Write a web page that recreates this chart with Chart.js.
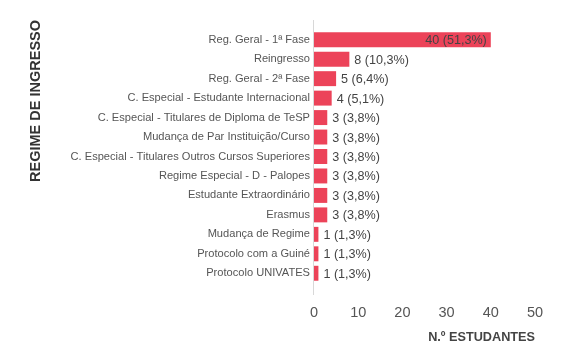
<!DOCTYPE html>
<html>
<head>
<meta charset="utf-8">
<script src="https://cdn.jsdelivr.net/npm/chart.js@4/dist/chart.umd.min.js"></script>
<style>
html,body{margin:0;padding:0;background:#fff;}
#wrap{width:570px;height:360px;}
</style>
</head>
<body>
<div id="wrap"><canvas id="c" width="570" height="360"></canvas></div>
<script>
const categories = [
  "Reg. Geral - 1ª Fase",
  "Reingresso",
  "Reg. Geral - 2ª Fase",
  "C. Especial - Estudante Internacional",
  "C. Especial - Titulares de Diploma de TeSP",
  "Mudança de Par Instituição/Curso",
  "C. Especial - Titulares Outros Cursos Superiores",
  "Regime Especial - D - Palopes",
  "Estudante Extraordinário",
  "Erasmus",
  "Mudança de Regime",
  "Protocolo com a Guiné",
  "Protocolo UNIVATES"
];
const students = [40, 8, 5, 4, 3, 3, 3, 3, 3, 3, 1, 1, 1];
const xTicks = [0, 10, 20, 30, 40, 50];
const yTitle = "REGIME DE INGRESSO";
const xTitle = "N.º ESTUDANTES";

const FONT = "'Liberation Sans', Arial, sans-serif";
const total = students.reduce((a, b) => a + b, 0);

const labelPlugin = {
  id: 'barLabels',
  beforeDatasetsDraw(chart) {
    const ctx = chart.ctx;
    const x = chart.scales.x.getPixelForValue(0);
    const a = chart.chartArea;
    ctx.save();
    ctx.strokeStyle = '#d8d8d8';
    ctx.lineWidth = 1;
    ctx.beginPath();
    ctx.moveTo(Math.round(x) - 0.5, a.top - 10);
    ctx.lineTo(Math.round(x) - 0.5, a.bottom + 12);
    ctx.stroke();
    // y axis title, anchored at top of the axis line
    ctx.translate(36, a.top - 10);
    ctx.rotate(-Math.PI / 2);
    ctx.font = "bold 14.5px " + FONT;
    ctx.fillStyle = "#333";
    ctx.textAlign = "right";
    ctx.textBaseline = "middle";
    ctx.fillText(yTitle, 0, 0);
    ctx.restore();
  },
  afterDatasetsDraw(chart) {
    const ctx = chart.ctx;
    const meta = chart.getDatasetMeta(0);
    ctx.save();
    ctx.font = "12.6px " + FONT;
    ctx.fillStyle = "#444";
    ctx.textBaseline = "middle";
    meta.data.forEach((bar, i) => {
      const v = students[i];
      const pct = (v / total * 100).toFixed(1).replace('.', ',');
      const txt = v + " (" + pct + "%)";
      const w = ctx.measureText(txt).width;
      const barW = bar.x - bar.base;
      if (barW > w + 10) {
        ctx.textAlign = "right";
        ctx.fillText(txt, bar.x - 4, bar.y + 1);
      } else {
        ctx.textAlign = "left";
        ctx.fillText(txt, bar.x + 5, bar.y + 1);
      }
    });
    ctx.restore();
  }
};

new Chart(document.getElementById('c'), {
  type: 'bar',
  data: {
    labels: categories,
    datasets: [{
      data: students,
      backgroundColor: '#EC4359',
      borderWidth: 0,
      categoryPercentage: 0.8,
      barPercentage: 0.96
    }]
  },
  options: {
    indexAxis: 'y',
    responsive: false,
    animation: false,
    devicePixelRatio: 1,
    layout: { padding: { left: 26, right: 35, top: 30, bottom: 0 } },
    plugins: { legend: { display: false }, tooltip: { enabled: false } },
    scales: {
      x: {
        min: 0, max: 50,
        afterBuildTicks(scale) { scale.ticks = xTicks.map(v => ({ value: v })); },
        afterFit(scale) { scale.height = 77; },
        grid: { display: false, drawTicks: false },
        border: { display: false },
        ticks: { color: '#555', font: { family: FONT, size: 14.5 }, padding: 21 },
        title: { display: true, text: xTitle, align: 'end', color: '#444',
                 font: { family: FONT, size: 12.7, weight: 'bold' }, padding: { top: 0, bottom: 15 } }
      },
      y: {
        afterFit(scale) { scale.width = 314 - 26; },
        grid: { display: false, drawTicks: false },
        border: { display: false },
        ticks: { color: '#555', font: { family: FONT, size: 11.1 }, padding: 4, autoSkip: false },
        title: { display: false, text: yTitle }
      }
    }
  },
  plugins: [labelPlugin]
});
</script>
</body>
</html>
